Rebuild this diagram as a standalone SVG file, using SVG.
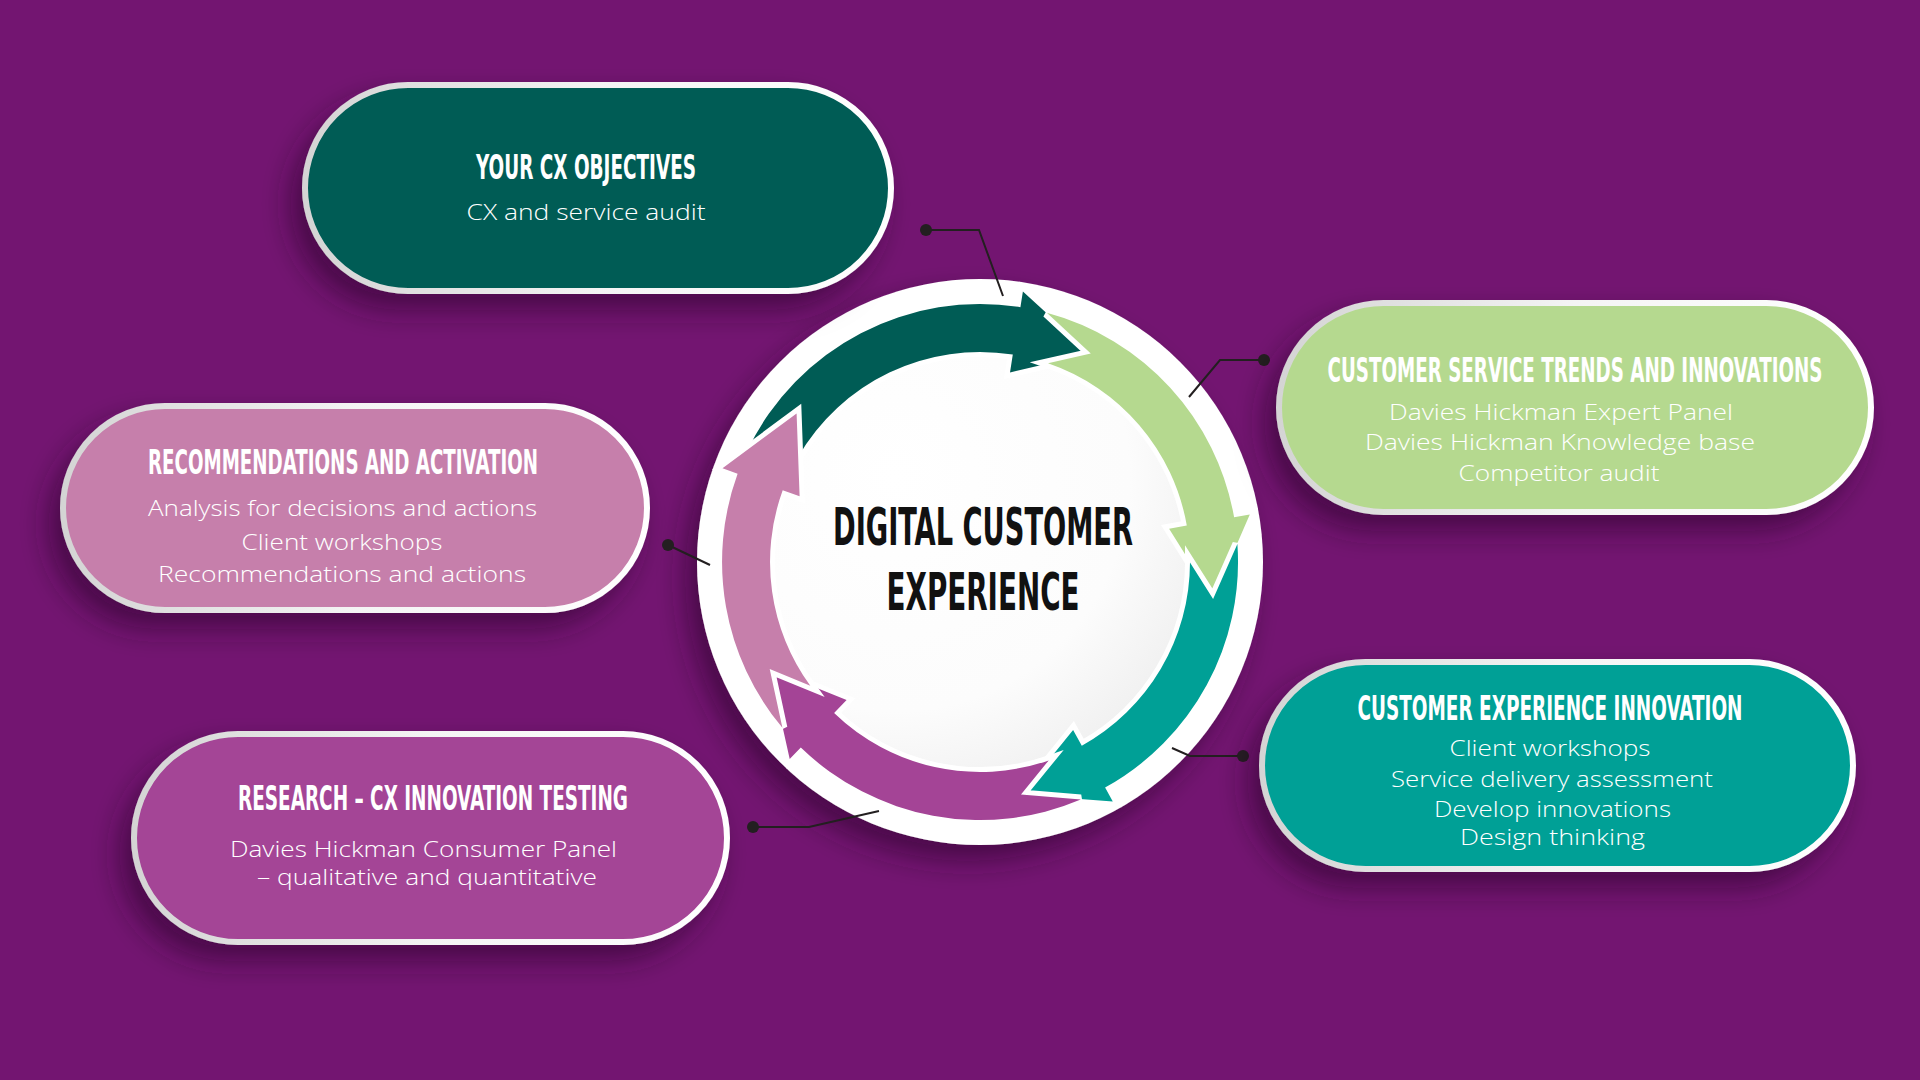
<svg xmlns="http://www.w3.org/2000/svg" width="1920" height="1080" viewBox="0 0 1920 1080">
  <defs>
    <filter id="shadow" x="-20%" y="-20%" width="140%" height="150%">
      <feDropShadow dx="-12" dy="16" stdDeviation="14" flood-color="#2a0427" flood-opacity="0.55"/>
    </filter>
    <linearGradient id="rim" x1="0" y1="0" x2="1" y2="0">
      <stop offset="0" stop-color="#d4d4d4"/>
      <stop offset="0.5" stop-color="#f4f4f4"/>
      <stop offset="1" stop-color="#ffffff"/>
    </linearGradient>
    <radialGradient id="disk" cx="0.3" cy="0.3" r="0.85">
      <stop offset="0" stop-color="#ffffff"/>
      <stop offset="0.65" stop-color="#fcfcfc"/>
      <stop offset="1" stop-color="#ededed"/>
    </radialGradient>
    <style>
      .pill { stroke: url(#rim); stroke-width: 6; }
      .title { font-family: "DejaVu Sans Condensed", "DejaVu Sans", sans-serif; font-stretch: condensed; font-weight: bold; font-size: 33px; fill: #ffffff; text-anchor: middle; }
      .body { font-family: "Open Sans", "Lato", "Noto Sans", sans-serif; font-weight: 300; font-size: 22.5px; fill: #ffffff; text-anchor: middle; }
      .center { font-family: "DejaVu Sans Condensed", "DejaVu Sans", sans-serif; font-stretch: condensed; font-weight: bold; font-size: 51px; fill: #111111; text-anchor: middle; }
      .arrow { stroke: #ffffff; stroke-width: 10; stroke-linejoin: miter; paint-order: stroke; }
      .conn { fill: none; stroke: #231f20; stroke-width: 2; }
      .dot { fill: #231f20; }
    </style>
  </defs>

  <rect width="1920" height="1080" fill="#731571"/>

  <!-- central cycle -->
  <g id="cycle">
    <circle cx="980" cy="562" r="283" fill="#ffffff" filter="url(#shadow)"/>
    <circle cx="980" cy="562" r="212" fill="url(#disk)"/>
    <path class="arrow" fill="#005c55" d="M748.1,448.9 A258,258 0 0 1 1020.4,307.2 L1022.9,291.4 L1090.8,353.6 L1010.0,372.4 L1012.8,354.6 A210,210 0 0 0 797.9,457.3 L796.6,413.5 Z"/>
    <path class="arrow" fill="#b5d98f" d="M1046.8,312.8 A258,258 0 0 1 1234.1,517.2 L1249.8,514.4 L1213.1,598.9 L1169.1,528.7 L1186.8,525.5 A210,210 0 0 0 1048.0,363.3 L1090.8,353.6 Z"/>
    <path class="arrow" fill="#00a096" d="M1237.4,544.0 A258,258 0 0 1 1105.1,787.6 L1112.8,801.6 L1021.0,794.4 L1073.1,729.9 L1081.8,745.7 A210,210 0 0 0 1190.0,562.4 L1213.1,598.9 Z"/>
    <path class="arrow" fill="#a44496" d="M1080.8,799.5 A258,258 0 0 1 800.8,747.6 L789.7,759.1 L769.7,669.1 L846.6,700.1 L834.1,713.1 A210,210 0 0 0 1048.7,760.4 L1021.0,794.4 Z"/>
    <path class="arrow" fill="#c67fab" d="M782.4,727.8 A258,258 0 0 1 737.6,473.8 L722.5,468.3 L796.6,413.5 L799.6,496.3 L782.7,490.2 A210,210 0 0 0 810.3,685.7 L769.7,669.1 Z"/>
    <text class="center" x="983" y="545" textLength="300" lengthAdjust="spacingAndGlyphs">DIGITAL CUSTOMER</text>
    <text class="center" x="983" y="610" textLength="193" lengthAdjust="spacingAndGlyphs">EXPERIENCE</text>
  </g>

  <!-- connectors -->
  <g id="connectors">
    <polyline class="conn" points="926,230 979,230 1003,296"/>
    <circle class="dot" cx="926" cy="230" r="6"/>
    <polyline class="conn" points="1264,360 1220,360 1189,397"/>
    <circle class="dot" cx="1264" cy="360" r="6"/>
    <polyline class="conn" points="1243,756 1190,756 1172,748"/>
    <circle class="dot" cx="1243" cy="756" r="6"/>
    <polyline class="conn" points="668,545 710,565"/>
    <circle class="dot" cx="668" cy="545" r="6"/>
    <polyline class="conn" points="753,827 809,827 879,811"/>
    <circle class="dot" cx="753" cy="827" r="6"/>
  </g>

  <!-- nodes -->
  <g id="node-objectives">
    <rect class="pill" x="305" y="85" width="586" height="206" rx="103" fill="#005c55" filter="url(#shadow)"/>
    <text class="title" x="586" y="179" textLength="220" lengthAdjust="spacingAndGlyphs">YOUR CX OBJECTIVES</text>
    <text class="body" x="586" y="220" textLength="239" lengthAdjust="spacingAndGlyphs">CX and service audit</text>
  </g>

  <g id="node-trends">
    <rect class="pill" x="1279" y="303" width="592" height="209" rx="104.5" fill="#b5d98f" filter="url(#shadow)"/>
    <text class="title" x="1575" y="382" textLength="495" lengthAdjust="spacingAndGlyphs">CUSTOMER SERVICE TRENDS AND INNOVATIONS</text>
    <text class="body" x="1561" y="420" textLength="344" lengthAdjust="spacingAndGlyphs">Davies Hickman Expert Panel</text>
    <text class="body" x="1560" y="450" textLength="390" lengthAdjust="spacingAndGlyphs">Davies Hickman Knowledge base</text>
    <text class="body" x="1559" y="481" textLength="201" lengthAdjust="spacingAndGlyphs">Competitor audit</text>
  </g>

  <g id="node-recommendations">
    <rect class="pill" x="63" y="406" width="584" height="204" rx="102" fill="#c67fab" filter="url(#shadow)"/>
    <text class="title" x="343" y="474" textLength="390" lengthAdjust="spacingAndGlyphs">RECOMMENDATIONS AND ACTIVATION</text>
    <text class="body" x="342.5" y="516" textLength="389" lengthAdjust="spacingAndGlyphs">Analysis for decisions and actions</text>
    <text class="body" x="342" y="550" textLength="201" lengthAdjust="spacingAndGlyphs">Client workshops</text>
    <text class="body" x="342" y="582" textLength="368" lengthAdjust="spacingAndGlyphs">Recommendations and actions</text>
  </g>

  <g id="node-innovation">
    <rect class="pill" x="1262" y="662" width="591" height="207" rx="103.5" fill="#00a096" filter="url(#shadow)"/>
    <text class="title" x="1550" y="720" textLength="385" lengthAdjust="spacingAndGlyphs">CUSTOMER EXPERIENCE INNOVATION</text>
    <text class="body" x="1550" y="756" textLength="201" lengthAdjust="spacingAndGlyphs">Client workshops</text>
    <text class="body" x="1552" y="787" textLength="322" lengthAdjust="spacingAndGlyphs">Service delivery assessment</text>
    <text class="body" x="1552.5" y="817" textLength="237" lengthAdjust="spacingAndGlyphs">Develop innovations</text>
    <text class="body" x="1552.5" y="845" textLength="185" lengthAdjust="spacingAndGlyphs">Design thinking</text>
  </g>

  <g id="node-research">
    <rect class="pill" x="134" y="734" width="593" height="208" rx="104" fill="#a44496" filter="url(#shadow)"/>
    <text class="title" x="433" y="810" textLength="390" lengthAdjust="spacingAndGlyphs">RESEARCH – CX INNOVATION TESTING</text>
    <text class="body" x="423.5" y="857" textLength="387" lengthAdjust="spacingAndGlyphs">Davies Hickman Consumer Panel</text>
    <text class="body" x="427" y="885" textLength="340" lengthAdjust="spacingAndGlyphs">– qualitative and quantitative</text>
  </g>
</svg>
